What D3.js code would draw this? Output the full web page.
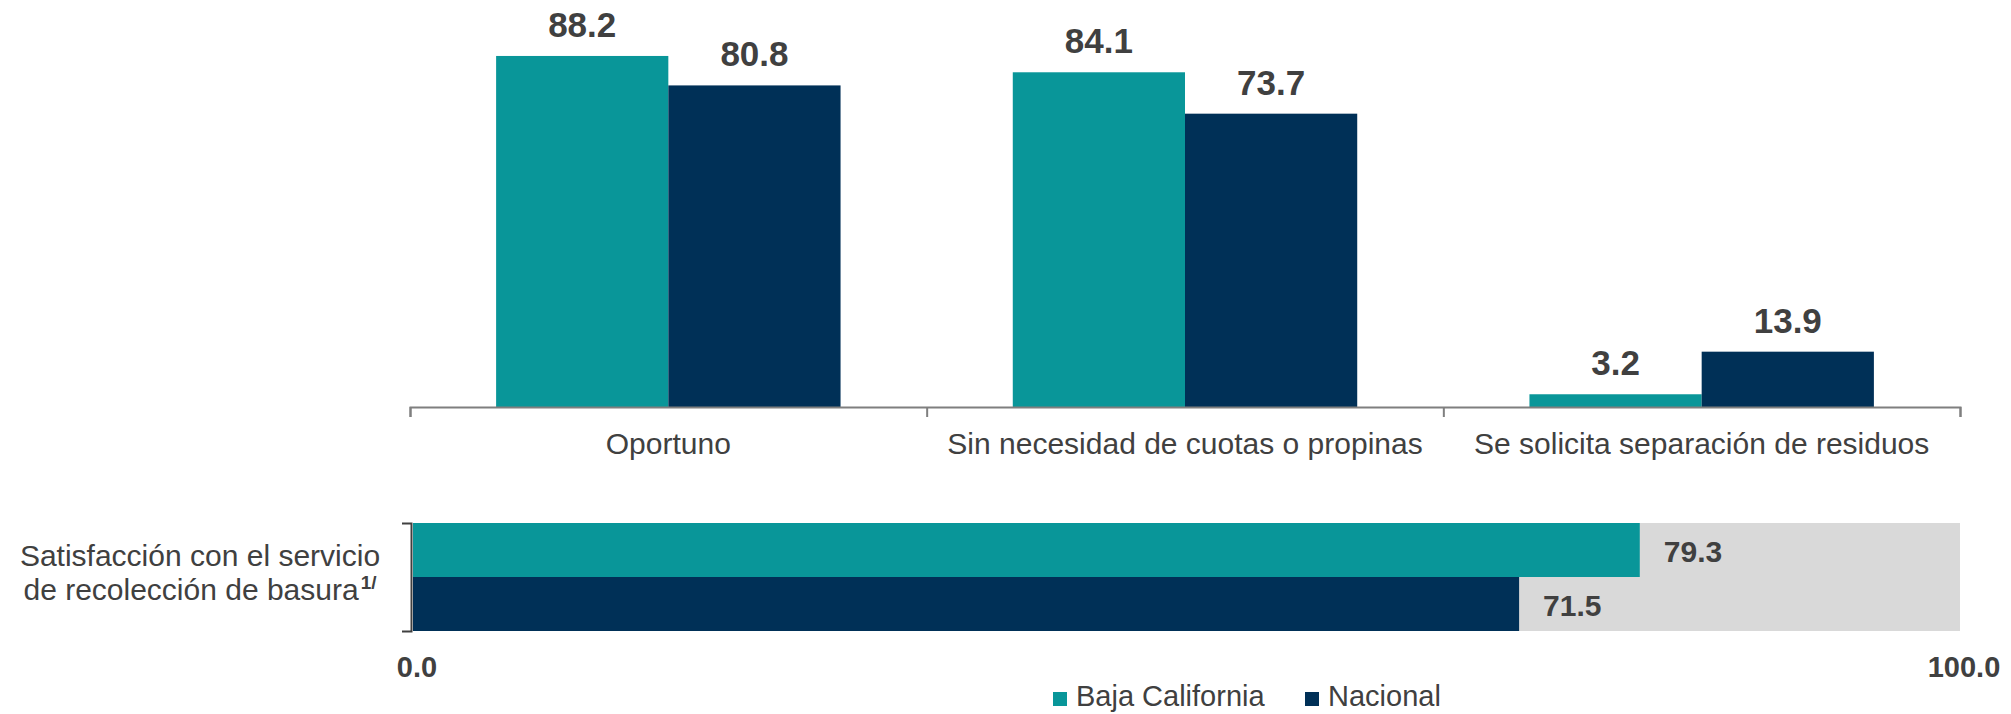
<!DOCTYPE html>
<html>
<head>
<meta charset="utf-8">
<script src="https://cdn.jsdelivr.net/npm/d3@7"></script>
<style>
  body { margin: 0; background: #fff; }
  svg { display: block; font-family: "Liberation Sans", Arial, sans-serif; }
</style>
</head>
<body>
<svg id="chart" width="2011" height="714"></svg>
<script>
// data
var series = ["Baja California", "Nacional"];
var categories = ["Oportuno", "Sin necesidad de cuotas o propinas", "Se solicita separación de residuos"];
var bajaCalifornia = [88.2, 84.1, 3.2];
var nacional = [80.8, 73.7, 13.9];
var satisfLabel = ["Satisfacción con el servicio", "de recolección de basura"];
var satisfValues = [79.3, 71.5];
var axisTicks = [0, 100];

var colors = { "Baja California": "#099699", "Nacional": "#003057" };
var textColor = "#404040";

var svg = d3.select("#chart");

// ---------- top grouped bars
var baseY = 407;
var x = d3.scaleBand().domain(categories).range([410, 1960]).paddingInner(0).paddingOuter(0);
var xSub = d3.scaleBand().domain(series).range([0, x.bandwidth()]).paddingInner(0).paddingOuter(0.5);
var y = d3.scaleLinear().domain([0, 100]).range([baseY, 9]);

var rows = categories.map(function(c, i) {
  return { cat: c, values: [
    { key: "Baja California", value: bajaCalifornia[i] },
    { key: "Nacional", value: nacional[i] }
  ]};
});

var groups = svg.selectAll(".grp")
  .data(rows)
  .enter().append("g")
    .attr("class", "grp")
    .attr("transform", function(d) { return "translate(" + x(d.cat) + ",0)"; });

groups.selectAll("rect")
  .data(function(d) { return d.values; })
  .enter().append("rect")
    .attr("x", function(d) { return xSub(d.key); })
    .attr("y", function(d) { return y(d.value); })
    .attr("width", xSub.bandwidth())
    .attr("height", function(d) { return baseY - y(d.value); })
    .attr("fill", function(d) { return colors[d.key]; });

groups.selectAll("text")
  .data(function(d) { return d.values; })
  .enter().append("text")
    .attr("x", function(d) { return xSub(d.key) + xSub.bandwidth() / 2; })
    .attr("y", function(d) { return y(d.value) - 19; })
    .attr("text-anchor", "middle")
    .style("font-size", "35px")
    .style("font-weight", "bold")
    .attr("fill", textColor)
    .text(function(d) { return d.value.toFixed(1); });

// axis line with ticks at the band edges
var edge = d3.scaleLinear().domain([0, categories.length]).range([410, 1960]);
var axisG = svg.append("g")
  .attr("transform", "translate(0," + baseY + ")")
  .call(d3.axisBottom(edge).ticks(categories.length).tickSizeInner(10).tickSizeOuter(10).tickFormat(""));
axisG.selectAll("path, line").attr("stroke", "#7f7f7f").attr("stroke-width", 2);

// category labels
var catAxis = svg.append("g")
  .attr("transform", "translate(0," + baseY + ")")
  .call(d3.axisBottom(x).tickSize(0));
catAxis.select(".domain").remove();
catAxis.selectAll("text")
  .attr("y", 47).attr("dy", 0)
  .attr("fill", textColor)
  .style("font-size", "30px")
  .style("font-family", "'Liberation Sans', Arial, sans-serif");

// ---------- horizontal satisfaction bars
var xH = d3.scaleLinear().domain([0, 100]).range([413, 1960]);
var yH = d3.scaleBand().domain(series).range([523, 631]);

svg.append("rect")
  .attr("x", xH(0))
  .attr("y", yH.range()[0])
  .attr("width", xH(100) - xH(0))
  .attr("height", yH.range()[1] - yH.range()[0])
  .attr("fill", "#d9d9d9");

var hData = series.map(function(s, i) { return { key: s, value: satisfValues[i] }; });

svg.selectAll(".hbar")
  .data(hData)
  .enter().append("rect")
    .attr("class", "hbar")
    .attr("x", xH(0))
    .attr("y", function(d) { return yH(d.key); })
    .attr("width", function(d) { return xH(d.value) - xH(0); })
    .attr("height", yH.bandwidth())
    .attr("fill", function(d) { return colors[d.key]; });

svg.selectAll(".hlabel")
  .data(hData)
  .enter().append("text")
    .attr("class", "hlabel")
    .attr("x", function(d) { return xH(d.value) + 24; })
    .attr("y", function(d) { return yH(d.key) + yH.bandwidth() / 2 + 12; })
    .style("font-size", "30px")
    .style("font-weight", "bold")
    .attr("fill", textColor)
    .text(function(d) { return d.value.toFixed(1); });

// bracket on the left
var bracket = d3.scaleLinear().domain([0, 1]).range(yH.range());
var brG = svg.append("g")
  .attr("transform", "translate(411,0)")
  .call(d3.axisLeft(bracket).tickValues([]).tickSizeOuter(9));
brG.select(".domain").attr("stroke", "#404040").attr("stroke-width", 2);

// left category label
var lbl = svg.append("text")
  .attr("text-anchor", "middle")
  .style("font-size", "30px")
  .attr("fill", textColor);
lbl.append("tspan").attr("x", 200).attr("y", 566).text(satisfLabel[0]);
lbl.append("tspan").attr("x", 200).attr("y", 600).text(satisfLabel[1]);
lbl.append("tspan").attr("dy", -11).attr("dx", 2).style("font-size", "19px").style("font-weight", "bold").text("1/");

// 0.0 and 100.0
var hAxis = svg.append("g")
  .attr("transform", "translate(0,656)")
  .call(d3.axisBottom(xH).tickValues(axisTicks).tickSize(0).tickFormat(d3.format(".1f")));
hAxis.select(".domain").remove();
hAxis.selectAll("text")
  .attr("y", 21).attr("dy", 0)
  .attr("fill", textColor)
  .style("font-size", "29px")
  .style("font-weight", "bold")
  .style("font-family", "'Liberation Sans', Arial, sans-serif");
hAxis.selectAll(".tick").attr("transform", function(d) {
  return "translate(" + (xH(d) + 4) + ",0)";
});

// ---------- legend
var legendX = [1053, 1305];
var legend = svg.selectAll(".legend")
  .data(series)
  .enter().append("g")
    .attr("class", "legend")
    .attr("transform", function(d, i) { return "translate(" + legendX[i] + ",692)"; });
legend.append("rect")
  .attr("width", 14).attr("height", 14)
  .attr("fill", function(d) { return colors[d]; });
legend.append("text")
  .attr("x", 23).attr("y", 14)
  .style("font-size", "29px")
  .attr("fill", textColor)
  .text(function(d) { return d; });
</script>
</body>
</html>
